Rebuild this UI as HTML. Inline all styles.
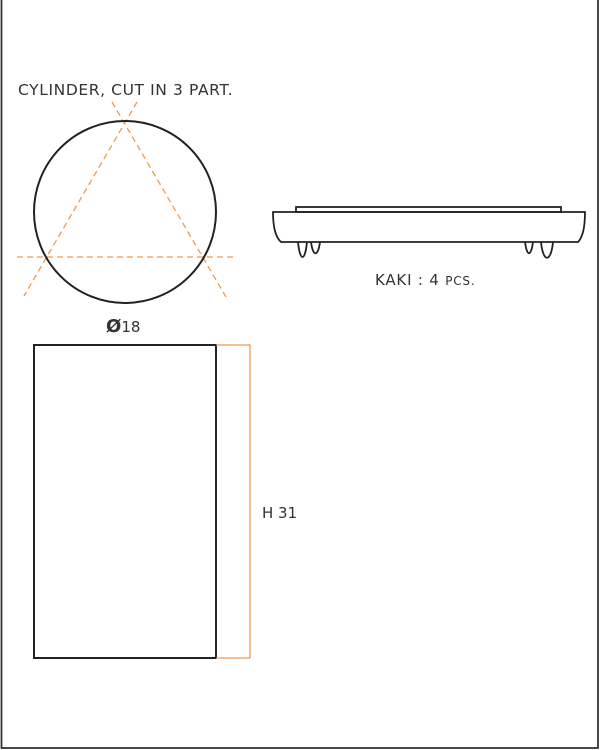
<!DOCTYPE html>
<html><head><meta charset="utf-8"><style>
html,body{margin:0;padding:0;background:#fff;}
svg{display:block;}
text{font-family:"DejaVu Sans","Liberation Sans",sans-serif;fill:#333;}
</style></head><body>
<svg width="600" height="750" viewBox="0 0 600 750">
<rect x="1.5" y="-2" width="596.5" height="750" fill="none" stroke="#333" stroke-width="1.8"/>
<text x="18" y="95" font-size="15.5" letter-spacing="0.6">CYLINDER, CUT IN 3 PART.</text>
<g stroke="#ee9a50" stroke-width="1.3" stroke-dasharray="6,4" fill="none">
<line x1="17" y1="257" x2="234" y2="257"/>
<line x1="137" y1="102" x2="24" y2="296"/>
<line x1="112" y1="102" x2="226" y2="297"/>
</g>
<circle cx="125" cy="212" r="91" fill="none" stroke="#222" stroke-width="2"/>
<text x="106" y="332" font-size="15"><tspan font-size="18" font-weight="bold">Ø</tspan>18</text>
<rect x="34" y="345" width="182" height="313" fill="none" stroke="#222" stroke-width="2"/>
<polyline points="216,345 250,345 250,658 216,658" fill="none" stroke="#ee9a50" stroke-width="1.3"/>
<text x="262" y="518" font-size="15">H 31</text>
<g fill="none" stroke="#222" stroke-width="1.8">
<rect x="296" y="207" width="265" height="5"/>
<path d="M273 212 H585 Q585 235 578 242 H281 Q273 235 273 212 Z"/>
<path d="M298 242 C300 262 305 262 307 242"/>
<path d="M311 242 C313 257 318 257 320 242"/>
<path d="M525 242 C527 257 531 257 533 242"/>
<path d="M541 242 C543 263 551 263 553 242"/>
</g>
<text x="375" y="285" font-size="15" letter-spacing="0.8">KAKI : 4 <tspan font-size="12">PCS.</tspan></text>
</svg>
</body></html>
